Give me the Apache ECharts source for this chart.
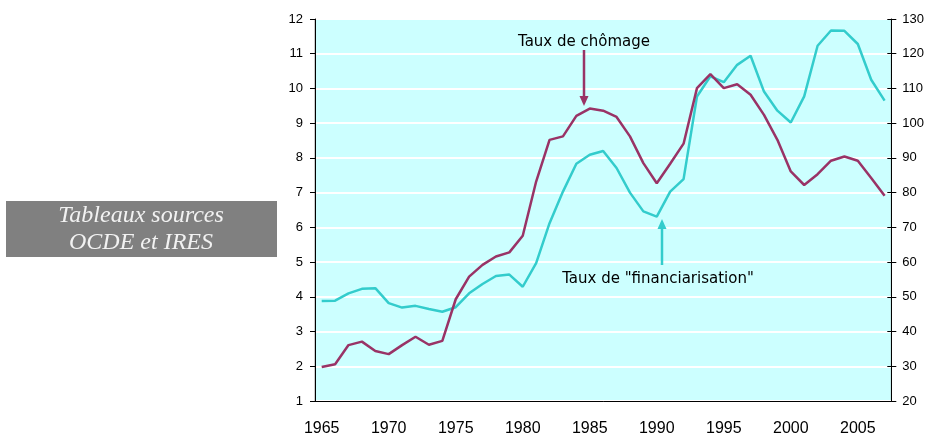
<!DOCTYPE html>
<html>
<head>
<meta charset="utf-8">
<script src="https://cdn.jsdelivr.net/npm/echarts@6/dist/echarts.min.js"></script>
<style>
  html, body { margin: 0; padding: 0; background: #fff; }
  #chart { width: 927px; height: 438px; }
</style>
</head>
<body>
<div id="chart"></div>
<script>
var years = ['1965','1966','1967','1968','1969','1970','1971','1972','1973','1974',
             '1975','1976','1977','1978','1979','1980','1981','1982','1983','1984',
             '1985','1986','1987','1988','1989','1990','1991','1992','1993','1994',
             '1995','1996','1997','1998','1999','2000','2001','2002','2003','2004',
             '2005','2006','2007']

// taux de chomage (axe de gauche)
var chomage = [1.98,2.06,2.61,2.71,2.44,2.35,2.61,2.85,2.62,2.73,
               3.93,4.58,4.92,5.16,5.28,5.76,7.32,8.52,8.62,9.21,
               9.42,9.36,9.18,8.62,7.85,7.27,7.83,8.41,10.01,10.41,
               10.01,10.12,9.82,9.24,8.52,7.61,7.22,7.53,7.92,8.04,
               7.92,7.42,6.91]

// taux de "financiarisation" (axe de droite)
var financ = [48.8,48.9,51.0,52.3,52.5,48.2,46.9,47.4,46.5,45.7,
              47.0,51.0,53.7,56.0,56.4,52.9,59.7,71.2,80.3,88.3,
              90.9,92.0,87.1,80.0,74.6,73.1,80.3,83.9,107.7,113.5,
              111.8,116.8,119.4,109.1,103.6,100.2,107.7,122.3,126.7,126.6,
              122.8,112.5,106.5]

var purple = '#993366'
var cyan = '#33cccc'
var axisFont = 'Liberation Sans, Arial, sans-serif'
var noteFont = 'DejaVu Sans, Verdana, sans-serif'
var boxFont = 'italic 24px "Liberation Serif", "Times New Roman", serif'

var myChart = echarts.init(document.getElementById('chart'))

myChart.setOption({
    animation: false,
    grid: {
        left: 315, right: 30, top: 19, bottom: 37,
        show: true,
        backgroundColor: '#ccffff',
        borderColor: '#999999',
        borderWidth: 1
    },
    xAxis: {
        type: 'category',
        data: years,
        boundaryGap: true,
        axisLine: { lineStyle: { color: '#000', width: 1 } },
        axisTick: { interval: 0, length: 4, lineStyle: { color: '#000' } },
        axisLabel: { interval: 4, margin: 20, fontFamily: axisFont, fontSize: 16, color: '#000' },
        splitLine: { show: false }
    },
    yAxis: [{
        type: 'value',
        position: 'left',
        min: 1, max: 12, interval: 1,
        axisLine: { show: true, lineStyle: { color: '#000', width: 1 } },
        axisTick: { show: true, length: 5, lineStyle: { color: '#000' } },
        axisLabel: { margin: 12, fontFamily: axisFont, fontSize: 13, color: '#000' },
        splitLine: { show: true, lineStyle: { color: '#ffffff', width: 2 } }
    }, {
        type: 'value',
        position: 'right',
        min: 20, max: 130, interval: 10,
        axisLine: { show: true, lineStyle: { color: '#000', width: 1 } },
        axisTick: { show: true, length: 5, lineStyle: { color: '#000' } },
        axisLabel: { margin: 11, fontFamily: axisFont, fontSize: 13, color: '#000' },
        splitLine: { show: false }
    }, {
        // ticks a l'interieur pour l'axe de droite
        type: 'value',
        position: 'right',
        min: 20, max: 130, interval: 10,
        axisLine: { show: false },
        axisTick: { show: true, inside: true, length: 4, lineStyle: { color: '#000' } },
        axisLabel: { show: false },
        splitLine: { show: false }
    }],
    series: [{
        name: 'Taux de chômage',
        type: 'line',
        yAxisIndex: 0,
        data: chomage,
        symbol: 'none',
        lineStyle: { color: purple, width: 2.5 },
        z: 3
    }, {
        name: 'Taux de "financiarisation"',
        type: 'line',
        yAxisIndex: 1,
        data: financ,
        symbol: 'none',
        lineStyle: { color: cyan, width: 2.5 },
        z: 2
    }],
    graphic: [
        // encadre gris a gauche
        { type: 'rect', shape: { x: 6, y: 201, width: 271, height: 56 },
          style: { fill: '#808080' } },
        { type: 'text', x: 141, y: 216,
          style: { text: 'Tableaux sources', font: boxFont,
                   fill: '#f2f2f2', align: 'center', verticalAlign: 'middle' } },
        { type: 'text', x: 141, y: 243,
          style: { text: 'OCDE et IRES', font: boxFont,
                   fill: '#f2f2f2', align: 'center', verticalAlign: 'middle' } },

        // annotation chomage
        { type: 'text', x: 584, y: 42, z: 10,
          style: { text: 'Taux de chômage', font: '15px ' + noteFont, fill: '#000',
                   align: 'center', verticalAlign: 'middle' } },
        { type: 'line', z: 10, shape: { x1: 584, y1: 50, x2: 584, y2: 98 },
          style: { stroke: purple, lineWidth: 2.5 } },
        { type: 'polygon', z: 10, shape: { points: [[579.5, 96], [588.5, 96], [584, 106]] },
          style: { fill: purple } },

        // annotation financiarisation
        { type: 'text', x: 658, y: 279, z: 10,
          style: { text: 'Taux de "financiarisation"', font: '15px ' + noteFont, fill: '#000',
                   align: 'center', verticalAlign: 'middle' } },
        { type: 'line', z: 10, shape: { x1: 662, y1: 265, x2: 662, y2: 227 },
          style: { stroke: cyan, lineWidth: 2.5 } },
        { type: 'polygon', z: 10, shape: { points: [[657.5, 229], [666.5, 229], [662, 219]] },
          style: { fill: cyan } }
    ]
})
</script>
</body>
</html>
